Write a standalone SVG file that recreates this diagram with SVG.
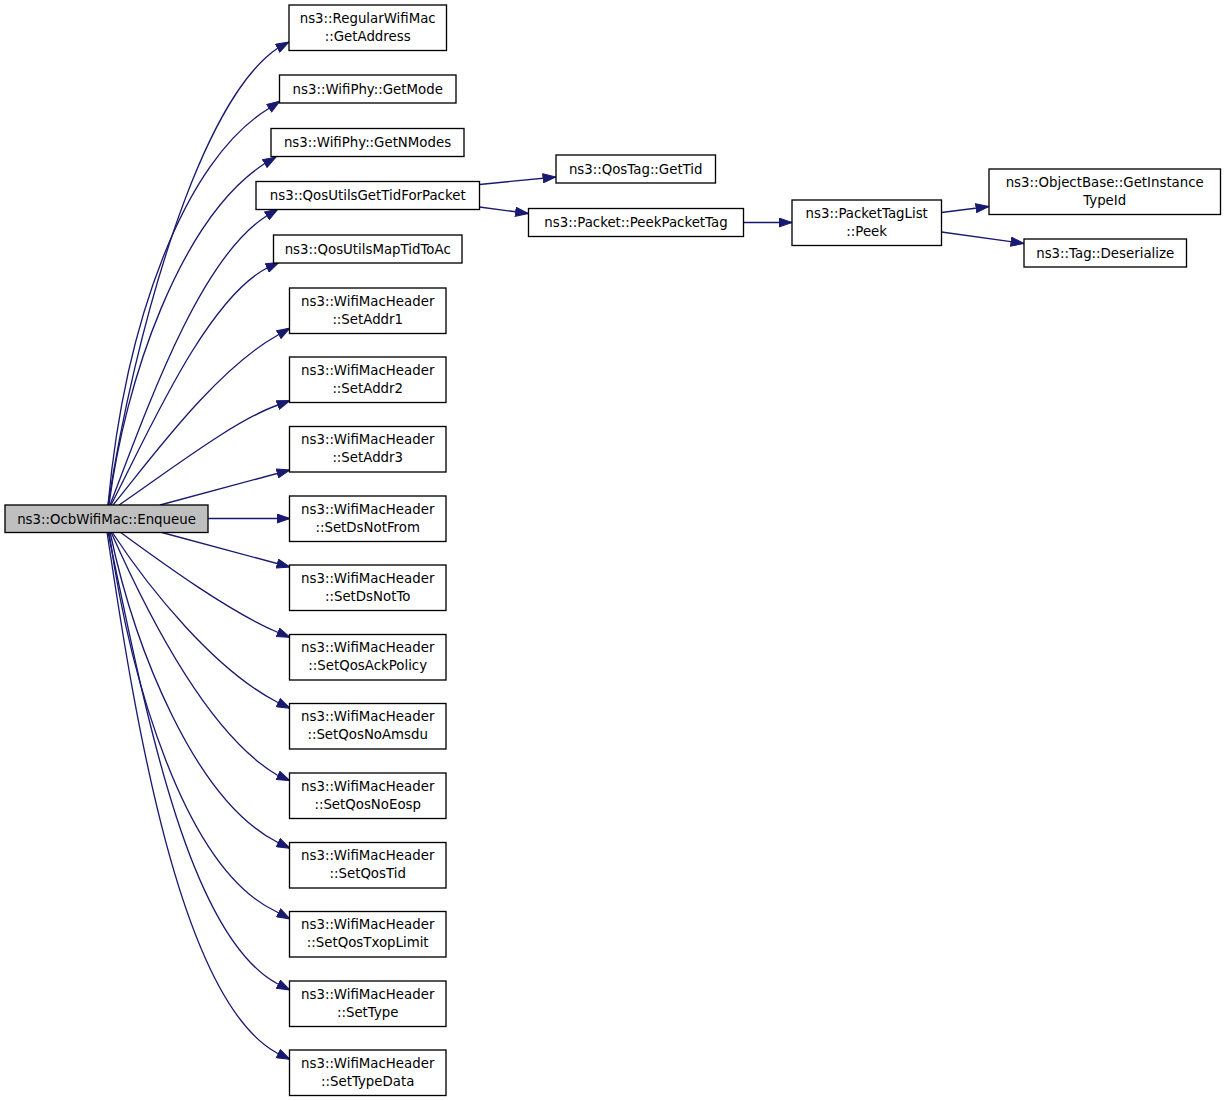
<svg xmlns="http://www.w3.org/2000/svg" width="1227" height="1101" viewBox="0 0 1227 1101">
<style>
.n rect{fill:#ffffff;stroke:#000000;stroke-width:1.33}
.n.src rect{fill:#bfbfbf}
.n text{font-family:"DejaVu Sans","Liberation Sans",sans-serif;font-size:13.33px;text-anchor:middle;fill:#000000}
.e path{fill:none;stroke:#191970;stroke-width:1.33;marker-end:url(#ah)}
</style>
<defs>
<marker id="ah" markerUnits="userSpaceOnUse" markerWidth="14" markerHeight="10" refX="13.5" refY="5" orient="auto" viewBox="0 0 14 10">
<path d="M0.5,0.5 L13.5,5 L0.5,9.5 z" fill="#191970" stroke="#191970" stroke-width="1"/>
</marker>
</defs>
<rect width="1227" height="1101" fill="#ffffff"/>
<g id="edges" class="e">
<path d="M108,505 C135,330 200,100 278,48 L289,42"/>
<path d="M108,505 C125,320 185,160 268,109 L280,101"/>
<path d="M109,505 C125,380 180,220 264,164 L276,157"/>
<path d="M110,505 C150,400 200,260 265,217 L278,209"/>
<path d="M111,505 C145,440 205,300 267,268 L279,262.5"/>
<path d="M113,505 C150,460 215,370 278,335 L290,328"/>
<path d="M119,505 C170,470 235,420 278,405 L290,400.5"/>
<path d="M160,505 L290,470"/>
<path d="M208,518.5 L290,518.5"/>
<path d="M160,532 L290,567"/>
<path d="M120,532 C165,565 230,612 277,632 L290,637.3"/>
<path d="M112,532 C150,590 215,670 277,702 L290,708.3"/>
<path d="M111,532 C150,620 210,735 277,775 L290,780.7"/>
<path d="M110,532 C135,650 195,800 277,842 L290,848.3"/>
<path d="M109,532 C130,680 185,870 277,912 L290,919"/>
<path d="M108,532 C145,710 188,935 277,983.5 L290,990"/>
<path d="M107,532 C135,720 180,1000 277,1053 L290,1059.3"/>
<path d="M479.5,184.5 L556,177"/>
<path d="M479.5,207 L528.5,213.5"/>
<path d="M743.5,222.5 L792,222.5"/>
<path d="M941.5,212.5 L989,206.5"/>
<path d="M941.5,232 L1024,243.5"/>
</g>
<g id="n_src" class="n src"><rect x="5" y="505" width="203" height="27.5"/><text x="106.5" y="523.5">ns3::OcbWifiMac::Enqueue</text></g>
<g id="n_getaddress" class="n"><rect x="289" y="5" width="157.5" height="45.5"/><text x="367.7" y="22.5">ns3::RegularWifiMac</text><text x="367.7" y="40.5">::GetAddress</text></g>
<g id="n_getmode" class="n"><rect x="279.5" y="75" width="176.5" height="28"/><text x="367.7" y="93.5">ns3::WifiPhy::GetMode</text></g>
<g id="n_getnmodes" class="n"><rect x="271" y="128.5" width="193" height="28"/><text x="367.5" y="147">ns3::WifiPhy::GetNModes</text></g>
<g id="n_gettidforpacket" class="n"><rect x="256" y="181.5" width="223.5" height="28"/><text x="367.7" y="200">ns3::QosUtilsGetTidForPacket</text></g>
<g id="n_maptidtoac" class="n"><rect x="273.5" y="235" width="188.5" height="28"/><text x="367.7" y="253.5">ns3::QosUtilsMapTidToAc</text></g>
<g id="n_setaddr1" class="n"><rect x="289.5" y="288" width="156.5" height="45.5"/><text x="367.7" y="305.5">ns3::WifiMacHeader</text><text x="367.7" y="323.5">::SetAddr1</text></g>
<g id="n_setaddr2" class="n"><rect x="289.5" y="357" width="156.5" height="45.5"/><text x="367.7" y="374.5">ns3::WifiMacHeader</text><text x="367.7" y="392.5">::SetAddr2</text></g>
<g id="n_setaddr3" class="n"><rect x="289.5" y="426.5" width="156.5" height="45.5"/><text x="367.7" y="444">ns3::WifiMacHeader</text><text x="367.7" y="462">::SetAddr3</text></g>
<g id="n_setdsnotfrom" class="n"><rect x="289.5" y="496" width="156.5" height="45.5"/><text x="367.7" y="513.5">ns3::WifiMacHeader</text><text x="367.7" y="531.5">::SetDsNotFrom</text></g>
<g id="n_setdsnotto" class="n"><rect x="289.5" y="565" width="156.5" height="45.5"/><text x="367.7" y="582.5">ns3::WifiMacHeader</text><text x="367.7" y="600.5">::SetDsNotTo</text></g>
<g id="n_setqosackpolicy" class="n"><rect x="289.5" y="634.5" width="156.5" height="45.5"/><text x="367.7" y="652">ns3::WifiMacHeader</text><text x="367.7" y="670">::SetQosAckPolicy</text></g>
<g id="n_setqosnoamsdu" class="n"><rect x="289.5" y="703.5" width="156.5" height="45.5"/><text x="367.7" y="721">ns3::WifiMacHeader</text><text x="367.7" y="739">::SetQosNoAmsdu</text></g>
<g id="n_setqosnoeosp" class="n"><rect x="289.5" y="773" width="156.5" height="45.5"/><text x="367.7" y="790.5">ns3::WifiMacHeader</text><text x="367.7" y="808.5">::SetQosNoEosp</text></g>
<g id="n_setqostid" class="n"><rect x="289.5" y="842.5" width="156.5" height="45.5"/><text x="367.7" y="860">ns3::WifiMacHeader</text><text x="367.7" y="878">::SetQosTid</text></g>
<g id="n_setqostxoplimit" class="n"><rect x="289.5" y="911.5" width="156.5" height="45.5"/><text x="367.7" y="929">ns3::WifiMacHeader</text><text x="367.7" y="947">::SetQosTxopLimit</text></g>
<g id="n_settype" class="n"><rect x="289.5" y="981" width="156.5" height="45.5"/><text x="367.7" y="998.5">ns3::WifiMacHeader</text><text x="367.7" y="1016.5">::SetType</text></g>
<g id="n_settypedata" class="n"><rect x="289.5" y="1050" width="156.5" height="45.5"/><text x="367.7" y="1067.5">ns3::WifiMacHeader</text><text x="367.7" y="1085.5">::SetTypeData</text></g>
<g id="n_qostaggettid" class="n"><rect x="556" y="155" width="159.5" height="28"/><text x="635.7" y="173.5">ns3::QosTag::GetTid</text></g>
<g id="n_peekpackettag" class="n"><rect x="528.5" y="208.5" width="215" height="28"/><text x="636" y="227">ns3::Packet::PeekPacketTag</text></g>
<g id="n_packettaglistpeek" class="n"><rect x="792" y="200" width="149.5" height="45.5"/><text x="866.7" y="217.5">ns3::PacketTagList</text><text x="866.7" y="235.5">::Peek</text></g>
<g id="n_getinstancetypeid" class="n"><rect x="989" y="169" width="231.5" height="45.5"/><text x="1104.7" y="186.5">ns3::ObjectBase::GetInstance</text><text x="1104.7" y="204.5">TypeId</text></g>
<g id="n_tagdeserialize" class="n"><rect x="1024" y="239" width="162.5" height="28"/><text x="1105.2" y="257.5">ns3::Tag::Deserialize</text></g>
</svg>
